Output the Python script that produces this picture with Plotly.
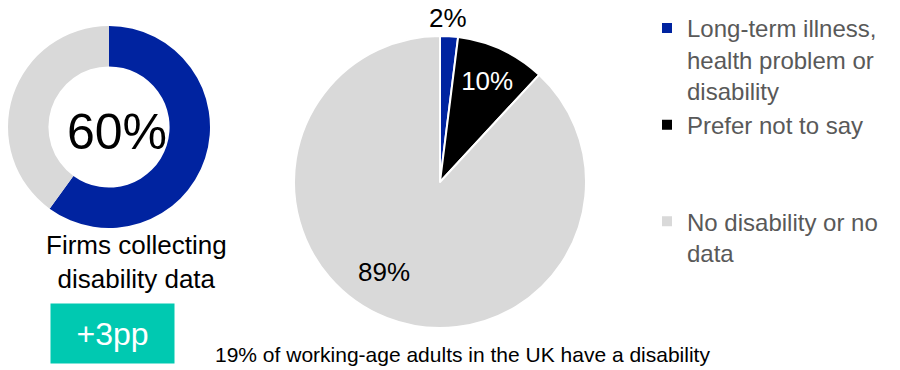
import plotly.graph_objects as go

FONT = "Liberation Sans, Arial, sans-serif"

# Donut: firms collecting disability data
donut_labels = ["Collecting", "Not collecting"]
donut_values = [60, 40]
donut_colors = ["#0023A0", "#D9D9D9"]
donut_center_text = "60%"
donut_caption = "Firms collecting<br>disability data"
change_text = "+3pp"

# Pie: disability status breakdown
pie_labels = ["Long-term illness,<br>health problem or<br>disability",
              "Prefer not to say<br> <br> ",
              "No disability or no<br>data"]
pie_values = [2, 10, 89]
pie_colors = ["#0023A0", "#000000", "#D9D9D9"]
pie_text_templates = ["", "%{value}%", ""]
pie_text_colors = ["#000000", "#FFFFFF", "#000000"]

footnote = "19% of working-age adults in the UK have a disability"

W, H = 900, 370

fig = go.Figure()

fig.add_trace(go.Pie(
    labels=donut_labels, values=donut_values, hole=0.6,
    marker=dict(colors=donut_colors, line=dict(width=0)),
    sort=False, direction="clockwise", textinfo="none",
    showlegend=False, hoverinfo="skip",
    domain=dict(x=[8/W, 210/W], y=[(H-228)/H, (H-26)/H]),
))

fig.add_trace(go.Pie(
    labels=pie_labels, values=pie_values,
    marker=dict(colors=pie_colors, line=dict(width=2, color="white")),
    sort=False, direction="clockwise",
    texttemplate=pie_text_templates, textposition="inside",
    insidetextorientation="horizontal",
    insidetextfont=dict(color=pie_text_colors, size=26, family=FONT),
    hoverinfo="skip",
    domain=dict(x=[294/W, 586/W], y=[(H-328)/H, (H-36)/H]),
))

annotations = [
    dict(text=donut_center_text, x=117/W, y=(H-132)/H, xref="paper", yref="paper",
         showarrow=False, font=dict(size=50, color="#000000", family=FONT),
         xanchor="center", yanchor="middle"),
    dict(text=donut_caption, x=136.5/W, y=(H-262)/H, xref="paper", yref="paper",
         showarrow=False, font=dict(size=26, color="#000000", family=FONT),
         xanchor="center", yanchor="middle", align="center"),
    dict(text=change_text, x=112.5/W, y=(H-333.5)/H, xref="paper", yref="paper",
         showarrow=False, font=dict(size=32, color="#FFFFFF", family=FONT),
         xanchor="center", yanchor="middle", bgcolor="#00C9B1",
         width=123, height=59, borderpad=0),
    dict(text=footnote, x=462/W, y=(H-354)/H, xref="paper", yref="paper",
         showarrow=False, font=dict(size=21, color="#000000", family=FONT),
         xanchor="center", yanchor="middle"),
    # outside/large-slice pie labels
    dict(text=f"{pie_values[0]}%", x=448/W, y=(H-18)/H, xref="paper", yref="paper",
         showarrow=False, font=dict(size=26, color="#000000", family=FONT),
         xanchor="center", yanchor="middle"),
    dict(text=f"{pie_values[2]}%", x=384/W, y=(H-272)/H, xref="paper", yref="paper",
         showarrow=False, font=dict(size=26, color="#000000", family=FONT),
         xanchor="center", yanchor="middle"),
]

fig.update_layout(
    width=W, height=H,
    margin=dict(l=0, r=0, t=0, b=0, autoexpand=False),
    paper_bgcolor="white", plot_bgcolor="white",
    font=dict(family=FONT),
    annotations=annotations,
    legend=dict(
        x=647/W, y=1 - 6/H, xanchor="left", yanchor="top",
        font=dict(size=24, color="#595959", family=FONT),
        valign="top", bgcolor="rgba(0,0,0,0)", tracegroupgap=0,
    ),
)

fig.write_html("out.html")
